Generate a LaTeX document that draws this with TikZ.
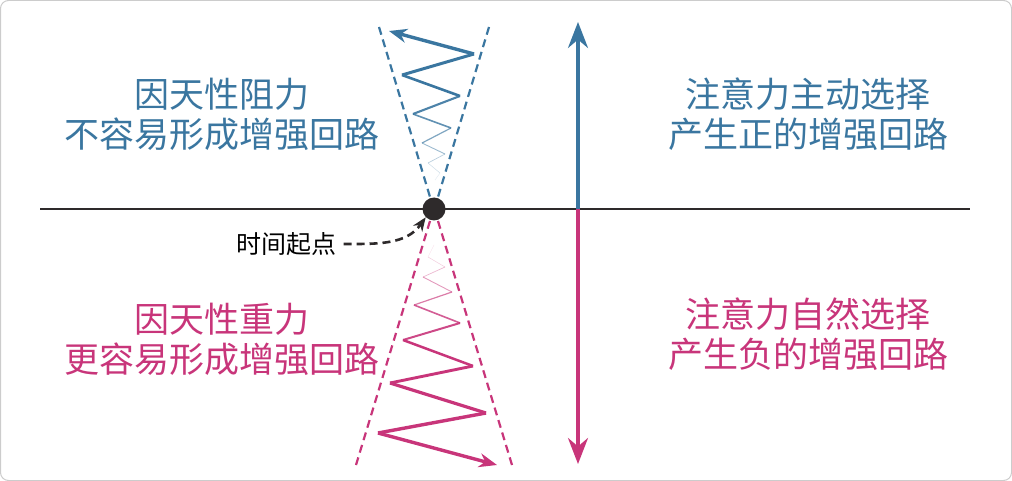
\documentclass[tikz,border=0pt]{standalone}
\usepackage{fontspec}
\newfontfamily\cjk{Noto Sans CJK SC}
\usetikzlibrary{arrows.meta}
\definecolor{bl}{HTML}{3A76A0}
\definecolor{pk}{HTML}{C8357A}
\definecolor{dk}{HTML}{2E2A2B}
\begin{document}
\begin{tikzpicture}[x=1pt,y=-1pt,
  cone/.style={dashed,dash pattern=on 8pt off 5pt,line width=2.2pt},
  lab/.style={font=\cjk\fontsize{35}{40}\selectfont,align=center},
  tip/.style={-{Stealth[length=18pt,width=14pt]}}]
\useasboundingbox (0,0) rectangle (1012,481);
\draw[gray!40,line width=1pt,rounded corners=8pt] (0.5,0.5) rectangle (1011.5,480.5);
\draw[dk,line width=2.6pt] (40,209) -- (970,209);
% cones
\draw[cone,bl] (379,27) -- (430,197);
\draw[cone,bl] (489,27) -- (438,197);
\draw[cone,pk] (430,221) -- (356,465);
\draw[cone,pk] (438,221) -- (512,465);
% blue zigzag
\foreach \a/\b/\c/\d/\w/\o in {435/180/440/173/0.4/0.15,440/173/428/163/0.5/0.25,428/163/445/154/0.7/0.35,445/154/422/143/0.9/0.5,422/143/451/128/1.2/0.65,451/128/413/114/1.6/0.8,413/114/460/96/2.1/0.9,460/96/402/75/2.6/1,402/75/474/54/3.0/1}
  \draw[bl,line width=\w pt,opacity=\o,line join=round] (\a,\b) -- (\c,\d);
\draw[bl,line width=3.4pt,tip] (474,54) -- (389,31);
% pink zigzag
\foreach \a/\b/\c/\d/\w/\o in {434/245/428/257/0.4/0.15,428/257/445/267/0.5/0.25,445/267/423/277/0.7/0.35,423/277/452/292/0.9/0.5,452/292/414/305/1.2/0.65,414/305/460/323/1.6/0.8,460/323/403/340/2.0/0.9,403/340/473/366/2.5/1,473/366/390/383/2.9/1,390/383/486/413/3.2/1,486/413/378/433/3.4/1}
  \draw[pk,line width=\w pt,opacity=\o,line join=round] (\a,\b) -- (\c,\d);
\draw[pk,line width=3.4pt,tip] (378,433) -- (497,465);
% vertical arrow
\coordinate (vt) at (578,22);
\coordinate (vm) at (578,209);
\coordinate (vb) at (578,464);
\draw[bl,line width=3.4pt,-{Stealth[length=26pt,width=20pt]}] (vm) -- (vt);
\draw[pk,line width=3.4pt,-{Stealth[length=26pt,width=20pt]}] (vm) -- (vb);
% origin
\node[circle,fill=dk,minimum size=23pt,inner sep=0pt] (o) at (434,209) {};
\node[font=\cjk\fontsize{25}{30}\selectfont] (t) at (286,244) {时间起点};
\draw[dk,dashed,dash pattern=on 8pt off 5pt,line width=2.6pt,-{Stealth[length=14pt,width=11pt]}] (t.east) ++(4,0) to[out=0,in=235] (o.south west);
% labels
\node[lab,text=bl] (l1) at (222,114) {因天性阻力\\不容易形成增强回路};
\node[lab,text=bl] (r1) at (808,114) {注意力主动选择\\产生正的增强回路};
\node[lab,text=pk] (l2) at (222,339) {因天性重力\\更容易形成增强回路};
\node[lab,text=pk] (r2) at (808,334) {注意力自然选择\\产生负的增强回路};
\end{tikzpicture}
\end{document}
